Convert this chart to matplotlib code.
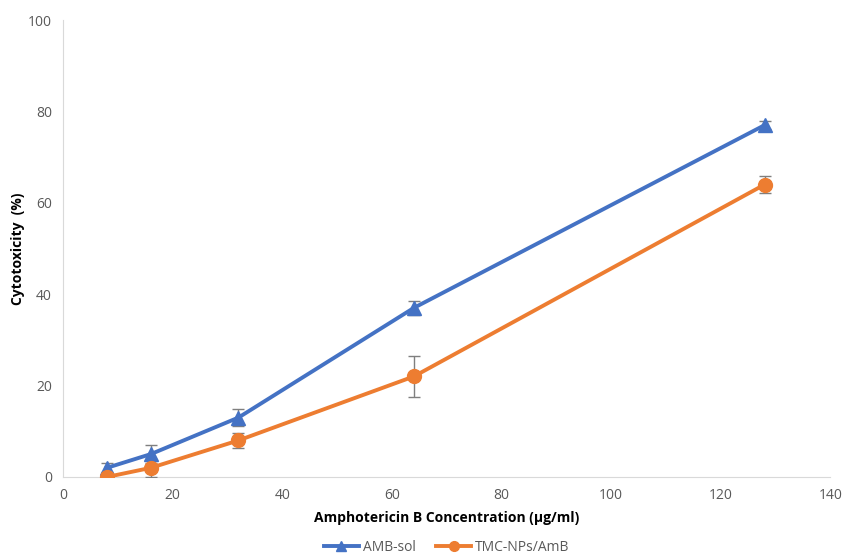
import numpy as np
import matplotlib.pyplot as plt

plt.rcParams['font.family'] = ['Open Sans', 'DejaVu Sans']

conc = [8, 16, 32, 64, 128]
amb_sol = [2, 5, 13, 37, 77]
amb_sol_err = [1.0, 2.0, 1.8, 1.6, 0.8]
tmc_nps = [0, 2, 8, 22, 64]
tmc_nps_err = [0.3, 2.0, 1.6, 4.4, 1.9]

fig = plt.figure(figsize=(8.48, 5.59), dpi=100)
ax = fig.add_axes([0.0743, 0.1467, 0.905, 0.8175])

e1 = ax.errorbar(conc, amb_sol, yerr=amb_sol_err, color='#4472C4', lw=2.8,
                 marker='^', ms=10, ecolor='#7f7f7f', elinewidth=1, capsize=4,
                 capthick=1, zorder=3)
e2 = ax.errorbar(conc, tmc_nps, yerr=tmc_nps_err, color='#ED7D31', lw=2.8,
                 marker='o', ms=10, ecolor='#7f7f7f', elinewidth=1, capsize=4,
                 capthick=1, zorder=3)

ax.set_xlim(0, 140)
ax.set_ylim(0, 100)
ax.set_xticks(np.arange(0, 141, 20))
ax.set_yticks(np.arange(0, 101, 20))
ax.tick_params(length=0, colors='#595959', labelsize=10, pad=8)
for s in ['top', 'right']:
    ax.spines[s].set_visible(False)
for s in ['left', 'bottom']:
    ax.spines[s].set_color('#d9d9d9')

ax.set_xlabel('Amphotericin B Concentration (µg/ml)', fontsize=10, fontweight='bold', labelpad=6)
ax.set_ylabel('Cytotoxicity  (%)', fontsize=10, fontweight='bold', labelpad=0)
ax.yaxis.set_label_coords(-0.049, 0.5)

ax.legend([e1.lines[0], e2.lines[0]], ['AMB-sol', 'TMC-NPs/AmB'],
          loc='center', bbox_to_anchor=(0.5, -0.155), ncol=2, frameon=False,
          fontsize=10, handlelength=2.5, columnspacing=1.5, labelcolor='#595959',
          markerscale=0.7, handletextpad=0.3)

fig.savefig('out.png', dpi=100)
